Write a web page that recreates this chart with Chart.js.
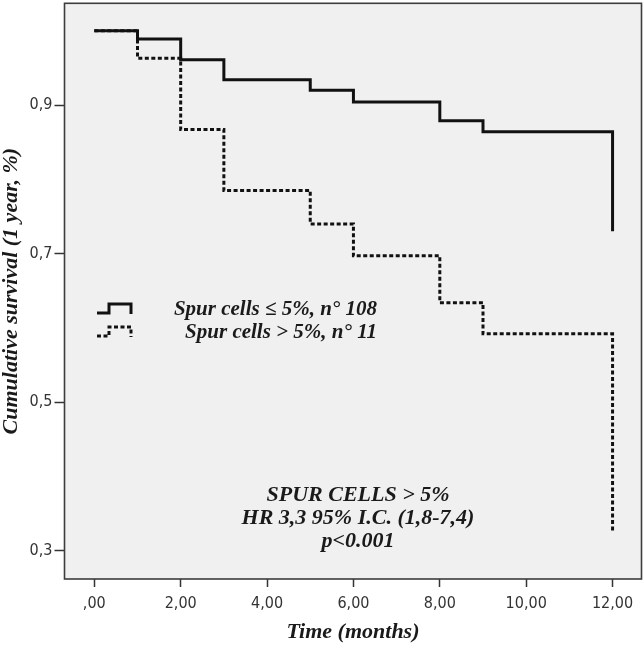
<!DOCTYPE html>
<html>
<head>
<meta charset="utf-8">
<script src="https://cdn.jsdelivr.net/npm/chart.js@4.4.1/dist/chart.umd.min.js"></script>
<style>
  html, body { margin: 0; padding: 0; background: #ffffff; }
  #wrap { width: 644px; height: 647px; }
</style>
</head>
<body>
<div id="wrap"><canvas id="c" width="644" height="647"></canvas></div>
<script>
// ---- data ----
const timeMonths = [0, 1, 2, 3, 5, 6, 8, 9, 12];
const survivalLow = [1.000, 0.989, 0.961, 0.934, 0.920, 0.904, 0.879, 0.864, 0.730];
const survivalHigh = [1.000, 0.963, 0.867, 0.785, 0.740, 0.697, 0.634, 0.592, 0.325];
const seriesLabels = ['Spur cells \u2264 5%, n\u00b0 108', 'Spur cells > 5%, n\u00b0 11'];
const xTickValues = [0, 2, 4, 6, 8, 10, 12];
const xTickLabels = [',00', '2,00', '4,00', '6,00', '8,00', '10,00', '12,00'];
const yTickValues = [0.3, 0.5, 0.7, 0.9];
const yTickLabels = ['0,3', '0,5', '0,7', '0,9'];
const annotationLines = ['SPUR CELLS > 5%', 'HR 3,3 95% I.C. (1,8-7,4)', 'p<0.001'];
const xTitle = 'Time (months)';
const yTitle = 'Cumulative survival (1 year, %)';

const serifBI = "'Liberation Serif', 'Times New Roman', serif";
const tickFamily = "'Liberation Sans Narrow', 'DejaVu Sans Condensed', 'Liberation Sans', sans-serif";

const toPoints = (xs, ys) => xs.map((x, i) => ({ x: x, y: ys[i] }));

const decorPlugin = {
  id: 'decor',
  beforeDraw(chart) {
    const { ctx, chartArea: a } = chart;
    ctx.save();
    ctx.fillStyle = '#ffffff';
    ctx.fillRect(0, 0, chart.width, chart.height);
    ctx.fillStyle = '#f0f0f0';
    ctx.fillRect(a.left, a.top, a.right - a.left, a.bottom - a.top);
    ctx.restore();
  },
  afterDatasetsDraw(chart) {
    const { ctx, chartArea: a } = chart;
    ctx.save();
    // frame
    ctx.strokeStyle = '#3c3c3c';
    ctx.lineWidth = 1.6;
    ctx.strokeRect(a.left, a.top, a.right - a.left, a.bottom - a.top);

    // legend (inside plot)
    const ds = chart.data.datasets;
    const rows = [310, 333];
    ds.forEach((d, i) => {
      const y = rows[i];
      ctx.beginPath();
      ctx.strokeStyle = d.borderColor;
      ctx.lineWidth = d.borderWidth;
      ctx.setLineDash(d.borderDash || []);
      ctx.moveTo(97, y + 3);
      ctx.lineTo(109, y + 3);
      ctx.lineTo(109, y - 6);
      ctx.lineTo(131, y - 6);
      ctx.lineTo(131, y + 4);
      ctx.stroke();
      ctx.setLineDash([]);
      ctx.fillStyle = '#1a1a1a';
      ctx.font = 'italic bold 21px ' + serifBI;
      ctx.textAlign = 'right';
      ctx.textBaseline = 'middle';
      ctx.fillText(d.label, 377, y);
    });

    // annotation
    ctx.fillStyle = '#1a1a1a';
    ctx.font = 'italic bold 22px ' + serifBI;
    ctx.textAlign = 'center';
    ctx.textBaseline = 'middle';
    const ys = [495, 518, 541];
    annotationLines.forEach((t, i) => ctx.fillText(t, 358, ys[i]));
    ctx.restore();
  }
};

function noPad(scale) {
  scale.paddingTop = 0;
  scale.paddingBottom = 0;
  scale.paddingLeft = 0;
  scale.paddingRight = 0;
}

new Chart(document.getElementById('c'), {
  type: 'line',
  data: {
    datasets: [
      {
        label: seriesLabels[0],
        data: toPoints(timeMonths, survivalLow),
        borderColor: '#111111',
        borderWidth: 3,
        stepped: 'before',
        pointRadius: 0,
        fill: false,
        tension: 0
      },
      {
        label: seriesLabels[1],
        data: toPoints(timeMonths, survivalHigh),
        borderColor: '#111111',
        borderWidth: 3,
        borderDash: [4, 2.5],
        stepped: 'before',
        pointRadius: 0,
        fill: false,
        tension: 0
      }
    ]
  },
  options: {
    responsive: false,
    animation: false,
    layout: { padding: { left: 0, right: 2.5, top: 3.3, bottom: 0 } },
    plugins: {
      legend: { display: false },
      tooltip: { enabled: false }
    },
    scales: {
      x: {
        type: 'linear',
        min: -0.69,
        max: 12.67,
        afterBuildTicks(scale) { scale.ticks = xTickValues.map(v => ({ value: v })); },
        afterFit(scale) { scale.height = 68; noPad(scale); },
        ticks: {
          autoSkip: false,
          maxRotation: 0,
          padding: 7,
          color: '#333333',
          font: { family: tickFamily, size: 16 },
          callback: (v) => { const i = xTickValues.indexOf(v); return i >= 0 ? xTickLabels[i] : ''; }
        },
        grid: { drawOnChartArea: false, drawTicks: true, tickLength: 8, tickColor: '#333333', tickWidth: 1.5 },
        border: { display: false },
        title: {
          display: true,
          text: xTitle,
          color: '#1a1a1a',
          font: { family: serifBI, size: 22, style: 'italic', weight: 'bold' },
          padding: { top: 0, bottom: 1 }
        }
      },
      y: {
        type: 'linear',
        min: 0.262,
        max: 1.037,
        afterBuildTicks(scale) { scale.ticks = yTickValues.map(v => ({ value: v })); },
        afterFit(scale) { scale.width = 64.5; noPad(scale); },
        ticks: {
          autoSkip: false,
          padding: 2,
          color: '#333333',
          font: { family: tickFamily, size: 16 },
          callback: (v) => { const i = yTickValues.indexOf(v); return i >= 0 ? yTickLabels[i] : ''; }
        },
        grid: { drawOnChartArea: false, drawTicks: true, tickLength: 10, tickColor: '#333333', tickWidth: 1.5 },
        border: { display: false },
        title: {
          display: true,
          text: yTitle,
          color: '#1a1a1a',
          font: { family: serifBI, size: 22, style: 'italic', weight: 'bold', lineHeight: 1.0 },
          padding: { top: 0, bottom: 0 }
        }
      }
    }
  },
  plugins: [decorPlugin]
});
</script>
</body>
</html>
